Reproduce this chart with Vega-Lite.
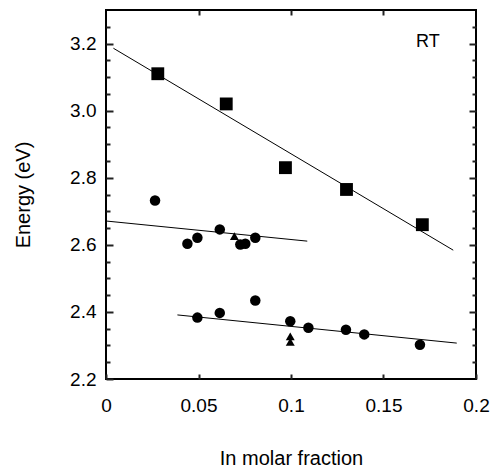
{
  "$schema": "https://vega.github.io/schema/vega-lite/v6.json",
  "width": 370,
  "height": 369,
  "autosize": "none",
  "padding": {"left": 106, "top": 10, "right": 16, "bottom": 91},
  "background": "white",
  "config": {
    "view": {"stroke": "black", "strokeWidth": 2},
    "font": "Liberation Sans",
    "axis": {
      "domain": false,
      "grid": false,
      "ticks": true,
      "labelFont": "Liberation Sans",
      "labelFontSize": 19,
      "labelColor": "black",
      "labelFlush": false,
      "titleFont": "Liberation Sans",
      "titleFontSize": 20,
      "titleFontWeight": "normal",
      "titleColor": "black"
    }
  },
  "datasets": {
    "squares": [
      {"x": 0.028, "E": 3.11},
      {"x": 0.065, "E": 3.02},
      {"x": 0.097, "E": 2.83},
      {"x": 0.130, "E": 2.765},
      {"x": 0.171, "E": 2.66}
    ],
    "others": [
      {"x": 0.0265, "E": 2.732, "marker": "circle"},
      {"x": 0.044, "E": 2.603, "marker": "circle"},
      {"x": 0.0494, "E": 2.621, "marker": "circle"},
      {"x": 0.0615, "E": 2.646, "marker": "circle"},
      {"x": 0.0726, "E": 2.601, "marker": "circle"},
      {"x": 0.0753, "E": 2.603, "marker": "circle"},
      {"x": 0.0807, "E": 2.621, "marker": "circle"},
      {"x": 0.0694, "E": 2.626, "marker": "triangle"},
      {"x": 0.0494, "E": 2.383, "marker": "circle"},
      {"x": 0.0615, "E": 2.397, "marker": "circle"},
      {"x": 0.0807, "E": 2.434, "marker": "circle"},
      {"x": 0.0996, "E": 2.372, "marker": "circle"},
      {"x": 0.1094, "E": 2.353, "marker": "circle"},
      {"x": 0.1297, "E": 2.347, "marker": "circle"},
      {"x": 0.1396, "E": 2.333, "marker": "circle"},
      {"x": 0.1697, "E": 2.302, "marker": "circle"},
      {"x": 0.0996, "E": 2.327, "marker": "triangle"},
      {"x": 0.0996, "E": 2.311, "marker": "triangle"}
    ],
    "lines": [
      {"line": "a", "x": 0.004, "E": 3.186},
      {"line": "a", "x": 0.1877, "E": 2.584},
      {"line": "b", "x": 0.0, "E": 2.671},
      {"line": "b", "x": 0.1088, "E": 2.611},
      {"line": "c", "x": 0.0386, "E": 2.391},
      {"line": "c", "x": 0.1896, "E": 2.307}
    ],
    "labels": [
      {"x": 0.174, "E": 3.205, "text": "RT"}
    ]
  },
  "resolve": {"axis": {"x": "independent", "y": "independent"}},
  "layer": [
    {
      "data": {"name": "lines"},
      "mark": {"type": "line", "color": "black", "strokeWidth": 1},
      "encoding": {
        "x": {
          "field": "x", "type": "quantitative",
          "scale": {"domain": [0, 0.2], "nice": false, "zero": false},
          "axis": {
            "orient": "bottom",
            "title": "In molar fraction",
            "values": [0, 0.05, 0.1, 0.15, 0.2],
            "format": "~g",
            "tickSize": 5,
            "offset": -5,
            "tickColor": "#222222",
            "tickWidth": 2,
            "labelPadding": 17,
            "titlePadding": 33
          }
        },
        "y": {
          "field": "E", "type": "quantitative",
          "scale": {"domain": [2.2, 3.3], "nice": false, "zero": false},
          "axis": {
            "orient": "left",
            "title": "Energy (eV)",
            "values": [2.2, 2.4, 2.6, 2.8, 3.0, 3.2],
            "format": ".1f",
            "tickSize": 7,
            "offset": -7,
            "tickColor": "#222222",
            "tickWidth": 2,
            "labelPadding": 10,
            "titlePadding": 36
          }
        },
        "detail": {"field": "line"}
      }
    },
    {
      "data": {"name": "squares"},
      "mark": {"type": "point", "filled": true, "opacity": 1, "color": "black", "shape": "square", "size": 165},
      "encoding": {
        "x": {
          "field": "x", "type": "quantitative",
          "axis": {
            "orient": "top",
            "title": null,
            "labels": false,
            "values": [0.05, 0.1, 0.15],
            "tickSize": 5,
            "offset": -5,
            "tickColor": "#222222",
            "tickWidth": 2
          }
        },
        "y": {
          "field": "E", "type": "quantitative",
          "axis": {
            "orient": "right",
            "title": null,
            "labels": false,
            "values": [2.4, 2.6, 2.8, 3.0, 3.2],
            "tickSize": 7,
            "offset": -7,
            "tickColor": "#222222",
            "tickWidth": 2
          }
        }
      }
    },
    {
      "data": {"name": "others"},
      "mark": {"type": "point", "filled": true, "opacity": 1, "color": "black"},
      "encoding": {
        "x": {"field": "x", "type": "quantitative", "axis": null},
        "y": {
          "field": "E", "type": "quantitative",
          "axis": {
            "orient": "left",
            "title": null,
            "labels": false,
            "values": [2.25, 2.3, 2.35, 2.45, 2.5, 2.55, 2.65, 2.7, 2.75, 2.85, 2.9, 2.95, 3.05, 3.1, 3.15, 3.25],
            "tickSize": 4,
            "offset": -4,
            "tickColor": "#222222",
            "tickWidth": 2
          }
        },
        "shape": {
          "field": "marker", "type": "nominal",
          "scale": {"domain": ["circle", "triangle"], "range": ["circle", "triangle-up"]},
          "legend": null
        },
        "size": {
          "field": "marker", "type": "nominal",
          "scale": {"domain": ["circle", "triangle"], "range": [110, 80]},
          "legend": null
        }
      }
    },
    {
      "data": {"name": "labels"},
      "mark": {"type": "text", "font": "Liberation Sans", "fontSize": 18, "color": "black", "align": "center", "baseline": "middle"},
      "encoding": {
        "x": {"field": "x", "type": "quantitative", "axis": null},
        "y": {
          "field": "E", "type": "quantitative",
          "axis": {
            "orient": "right",
            "title": null,
            "labels": false,
            "values": [2.25, 2.3, 2.35, 2.45, 2.5, 2.55, 2.65, 2.7, 2.75, 2.85, 2.9, 2.95, 3.05, 3.1, 3.15, 3.25],
            "tickSize": 4,
            "offset": -4,
            "tickColor": "#222222",
            "tickWidth": 2
          }
        },
        "text": {"field": "text"}
      }
    }
  ]
}
